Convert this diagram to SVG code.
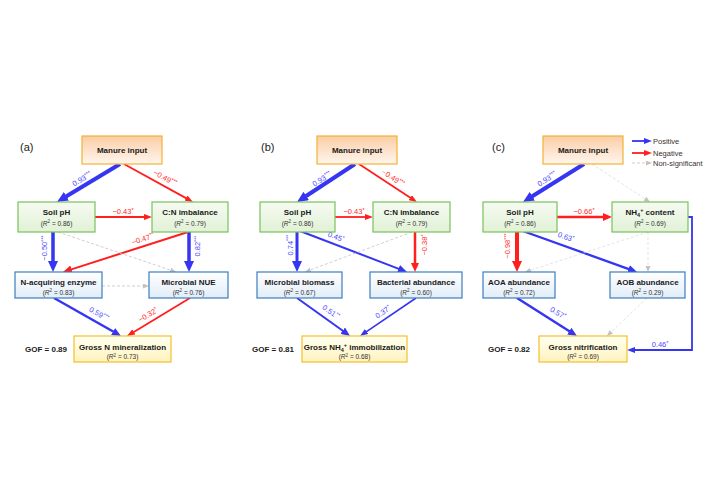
<svg xmlns="http://www.w3.org/2000/svg" width="716" height="484" viewBox="0 0 716 484">
<defs>
<linearGradient id="gOr" x1="0" y1="0" x2="0" y2="1"><stop offset="0" stop-color="#fbcda5"/><stop offset="1" stop-color="#fff6ee"/></linearGradient>
<linearGradient id="gGr" x1="0" y1="0" x2="0" y2="1"><stop offset="0" stop-color="#f6fbf2"/><stop offset="1" stop-color="#e1f1d6"/></linearGradient>
<linearGradient id="gBl" x1="0" y1="0" x2="0" y2="1"><stop offset="0" stop-color="#ffffff"/><stop offset="1" stop-color="#e2edf8"/></linearGradient>
<linearGradient id="gYe" x1="0" y1="0" x2="0" y2="1"><stop offset="0" stop-color="#fffff2"/><stop offset="1" stop-color="#fff3bd"/></linearGradient>
<marker id="bB" markerUnits="userSpaceOnUse" markerWidth="11" markerHeight="10" refX="1" refY="5" orient="auto"><path d="M0,0 L11,5 L0,10 z" fill="#3535f2"/></marker>
<marker id="bM" markerUnits="userSpaceOnUse" markerWidth="9" markerHeight="8" refX="1" refY="4" orient="auto"><path d="M0,0 L9,4 L0,8 z" fill="#3535f2"/></marker>
<marker id="bS" markerUnits="userSpaceOnUse" markerWidth="8" markerHeight="6" refX="1" refY="3" orient="auto"><path d="M0,0 L8,3 L0,6 z" fill="#3535f2"/></marker>
<marker id="rB" markerUnits="userSpaceOnUse" markerWidth="11" markerHeight="10" refX="1" refY="5" orient="auto"><path d="M0,0 L11,5 L0,10 z" fill="#ff1f1f"/></marker>
<marker id="rM" markerUnits="userSpaceOnUse" markerWidth="9" markerHeight="8" refX="1" refY="4" orient="auto"><path d="M0,0 L9,4 L0,8 z" fill="#ff1f1f"/></marker>
<marker id="rS" markerUnits="userSpaceOnUse" markerWidth="8" markerHeight="6" refX="1" refY="3" orient="auto"><path d="M0,0 L8,3 L0,6 z" fill="#ff1f1f"/></marker>
<marker id="gA" markerUnits="userSpaceOnUse" markerWidth="6" markerHeight="5" refX="1" refY="2.5" orient="auto"><path d="M0,0 L6,2.5 L0,5 z" fill="#c8c0c0"/></marker>
</defs>
<style>
text{font-family:"Liberation Sans",Arial,sans-serif;}
.t{font-size:8px;font-weight:bold;fill:#1a1a1a;text-anchor:middle;}
.r{font-size:6.5px;fill:#333;text-anchor:middle;}
.lb{font-size:7.5px;fill:#4a48ff;text-anchor:middle;}
.lr{font-size:7.5px;fill:#ff2a2a;text-anchor:middle;}
.s{font-size:5.5px;}
.pl{font-size:11px;fill:#222;}
.gof{font-size:8px;font-weight:bold;fill:#1a1a1a;}
.lg{font-size:7.5px;fill:#3a3030;}
.or{fill:url(#gOr);stroke:#f3b232;stroke-width:1.2;}
.gr{fill:url(#gGr);stroke:#79c15c;stroke-width:1.2;}
.bl{fill:url(#gBl);stroke:#3d7dbd;stroke-width:1.2;}
.ye{fill:url(#gYe);stroke:#f3c02e;stroke-width:1.2;}
.B{stroke:#3535f2;fill:none;}
.R{stroke:#ff1f1f;fill:none;}
.D{stroke:#c8c0c0;stroke-width:0.8;stroke-dasharray:3,2;fill:none;}
.DL{stroke:#dcd6d6;stroke-width:0.7;stroke-dasharray:3,2;fill:none;}
</style>
<rect width="716" height="484" fill="#ffffff"/>

<text class="pl" x="20" y="151">(a)</text>
<text class="pl" x="261" y="151">(b)</text>
<text class="pl" x="492" y="151">(c)</text>

<g id="connectors">
<!-- panel a -->
<line class="B" stroke-width="4" x1="120" y1="164" x2="65.6" y2="196.8" marker-end="url(#bB)"/>
<line class="R" stroke-width="1.8" x1="124" y1="164" x2="186.9" y2="198.6" marker-end="url(#rS)"/>
<line class="R" stroke-width="1.8" x1="95" y1="217" x2="145" y2="217" marker-end="url(#rS)"/>
<line class="B" stroke-width="3.5" x1="53" y1="232" x2="53" y2="262" marker-end="url(#bB)"/>
<line class="B" stroke-width="3.5" x1="189" y1="232" x2="189" y2="262" marker-end="url(#bB)"/>
<line class="R" stroke-width="2" x1="188" y1="232" x2="70.6" y2="269.6" marker-end="url(#rM)"/>
<line class="D" x1="58" y1="232" x2="171.3" y2="270.4" marker-end="url(#gA)"/>
<line class="D" x1="102" y1="286" x2="144" y2="286" marker-end="url(#gA)"/>
<line class="B" stroke-width="2.5" x1="54" y1="298" x2="114" y2="332" marker-end="url(#bM)"/>
<line class="R" stroke-width="1.8" x1="190" y1="298" x2="133" y2="332.4" marker-end="url(#rS)"/>
<!-- panel b -->
<line class="B" stroke-width="4" x1="355" y1="164" x2="305.4" y2="196.5" marker-end="url(#bB)"/>
<line class="R" stroke-width="1.8" x1="359" y1="164" x2="411.1" y2="198.2" marker-end="url(#rS)"/>
<line class="R" stroke-width="1.8" x1="335" y1="217" x2="366" y2="217" marker-end="url(#rS)"/>
<line class="B" stroke-width="3" x1="297" y1="232" x2="297" y2="262" marker-end="url(#bB)"/>
<line class="B" stroke-width="2" x1="300" y1="231" x2="399.5" y2="269.1" marker-end="url(#bM)"/>
<line class="R" stroke-width="2.5" x1="415" y1="232" x2="415" y2="264" marker-end="url(#rM)"/>
<line class="D" x1="412" y1="232" x2="309.7" y2="270.2" marker-end="url(#gA)"/>
<line class="B" stroke-width="2" x1="297" y1="298" x2="343.5" y2="331.3" marker-end="url(#bM)"/>
<line class="B" stroke-width="1.6" x1="416" y1="298" x2="365.8" y2="332.1" marker-end="url(#bS)"/>
<!-- panel c -->
<line class="B" stroke-width="4" x1="584" y1="164" x2="531.5" y2="196.7" marker-end="url(#bB)"/>
<line class="DL" x1="592" y1="164" x2="645.8" y2="199.3" marker-end="url(#gA)"/>
<line class="R" stroke-width="2.5" x1="557" y1="217" x2="604" y2="217" marker-end="url(#rM)"/>
<line class="R" stroke-width="4" x1="517" y1="232" x2="517" y2="262" marker-end="url(#rB)"/>
<line class="B" stroke-width="2.3" x1="520" y1="230" x2="629.5" y2="269.3" marker-end="url(#bM)"/>
<line class="DL" x1="648" y1="232" x2="529.8" y2="270.5" marker-end="url(#gA)"/>
<line class="DL" x1="648" y1="232" x2="648" y2="267" marker-end="url(#gA)"/>
<line class="B" stroke-width="2.5" x1="517" y1="298" x2="570.2" y2="331.7" marker-end="url(#bM)"/>
<line class="DL" x1="647" y1="298" x2="610.6" y2="332.6" marker-end="url(#gA)"/>
<path class="B" stroke-width="1.8" d="M688,217 H692 V350 H634" marker-end="url(#bS)"/>
<!-- legend -->
<line class="B" stroke-width="1.8" x1="632" y1="141" x2="645" y2="141" marker-end="url(#bS)"/>
<line class="R" stroke-width="1.8" x1="632" y1="153" x2="645" y2="153" marker-end="url(#rS)"/>
<line class="D" x1="632" y1="163" x2="647" y2="163" marker-end="url(#gA)"/>
</g>

<g id="labels">
<!-- a -->
<text class="lb" transform="translate(82,179) rotate(-31.1)" y="2.5">0.93<tspan class="s" dy="-2.5">***</tspan></text>
<text class="lr" transform="translate(165,178) rotate(28.8)" y="2.5">−0.49<tspan class="s" dy="-2.5">***</tspan></text>
<text class="lr" x="123" y="214">−0.43<tspan class="s" dy="-2.5">*</tspan></text>
<text class="lb" transform="translate(47,248) rotate(-90)">−0.50<tspan class="s" dy="-2.5">***</tspan></text>
<text class="lb" transform="translate(200,246) rotate(-90)">0.82<tspan class="s" dy="-2.5">***</tspan></text>
<text class="lr" transform="translate(143,239) rotate(-17.7)" y="2.5">−0.47<tspan class="s" dy="-2.5">**</tspan></text>
<text class="lb" transform="translate(99,314) rotate(29.6)" y="2.5">0.59<tspan class="s" dy="-2.5">***</tspan></text>
<text class="lr" transform="translate(148,315) rotate(-31.1)" y="2.5">−0.32<tspan class="s" dy="-2.5">*</tspan></text>
<!-- b -->
<text class="lb" transform="translate(322,179) rotate(-33.2)" y="2.5">0.93<tspan class="s" dy="-2.5">***</tspan></text>
<text class="lr" transform="translate(393,178) rotate(33.2)" y="2.5">−0.49<tspan class="s" dy="-2.5">***</tspan></text>
<text class="lr" x="354" y="214">−0.43<tspan class="s" dy="-2.5">*</tspan></text>
<text class="lb" transform="translate(292.5,245) rotate(-90)">0.74<tspan class="s" dy="-2.5">***</tspan></text>
<text class="lb" transform="translate(336,237) rotate(21)" y="2.5">0.45<tspan class="s" dy="-2.5">*</tspan></text>
<text class="lr" transform="translate(427,245) rotate(-90)">−0.38<tspan class="s" dy="-2.5">*</tspan></text>
<text class="lb" transform="translate(331,312) rotate(35.6)" y="2.5">0.51<tspan class="s" dy="-2.5">**</tspan></text>
<text class="lb" transform="translate(383,312) rotate(-34.2)" y="2.5">0.37<tspan class="s" dy="-2.5">*</tspan></text>
<!-- c -->
<text class="lb" transform="translate(547,179) rotate(-31.9)" y="2.5">0.93<tspan class="s" dy="-2.5">***</tspan></text>
<text class="lr" x="584" y="214">−0.66<tspan class="s" dy="-2.5">*</tspan></text>
<text class="lr" transform="translate(510,246) rotate(-90)">−0.98<tspan class="s" dy="-2.5">***</tspan></text>
<text class="lb" transform="translate(566,237) rotate(19.7)" y="2.5">0.63<tspan class="s" dy="-2.5">*</tspan></text>
<text class="lb" transform="translate(558,313) rotate(32.3)" y="2.5">0.57<tspan class="s" dy="-2.5">*</tspan></text>
<text class="lb" x="660" y="347">0.46<tspan class="s" dy="-2.5">*</tspan></text>
</g>

<g id="legend">
<text class="lg" x="653" y="143.5">Positive</text>
<text class="lg" x="653" y="155.5">Negative</text>
<text class="lg" x="653" y="166">Non-significant</text>
</g>

<!-- panel a nodes -->
<g id="a-manure"><rect class="or" x="82" y="136" width="80" height="28"/><text class="t" x="122" y="153">Manure input</text></g>
<g id="a-soilph"><rect class="gr" x="18" y="202" width="77" height="30"/><text class="t" x="56.5" y="215">Soil pH</text><text class="r" x="56.5" y="225.5">(<tspan font-style="italic">R</tspan><tspan font-size="4.5" dy="-2.5">2</tspan><tspan dy="2.5"> = 0.86)</tspan></text></g>
<g id="a-cn"><rect class="gr" x="152" y="202" width="76" height="30"/><text class="t" x="190" y="215">C:N imbalance</text><text class="r" x="190" y="225.5">(<tspan font-style="italic">R</tspan><tspan font-size="4.5" dy="-2.5">2</tspan><tspan dy="2.5"> = 0.79)</tspan></text></g>
<g id="a-nacq"><rect class="bl" x="15" y="272" width="87" height="26"/><text class="t" x="58.5" y="285">N-acquiring enzyme</text><text class="r" x="58.5" y="294.5">(<tspan font-style="italic">R</tspan><tspan font-size="4.5" dy="-2.5">2</tspan><tspan dy="2.5"> = 0.83)</tspan></text></g>
<g id="a-nue"><rect class="bl" x="149" y="272" width="79" height="26"/><text class="t" x="188.5" y="285">Microbial NUE</text><text class="r" x="188.5" y="294.5">(<tspan font-style="italic">R</tspan><tspan font-size="4.5" dy="-2.5">2</tspan><tspan dy="2.5"> = 0.76)</tspan></text></g>
<g id="a-gross"><rect class="ye" x="74" y="336" width="97" height="26"/><text class="t" x="122.5" y="349.5">Gross N mineralization</text><text class="r" x="122.5" y="359">(<tspan font-style="italic">R</tspan><tspan font-size="4.5" dy="-2.5">2</tspan><tspan dy="2.5"> = 0.73)</tspan></text></g>
<text class="gof" x="25" y="352">GOF = 0.89</text>

<!-- panel b nodes -->
<g id="b-manure"><rect class="or" x="317" y="136" width="80" height="28"/><text class="t" x="357" y="153">Manure input</text></g>
<g id="b-soilph"><rect class="gr" x="260" y="202" width="75" height="30"/><text class="t" x="297.5" y="215">Soil pH</text><text class="r" x="297.5" y="225.5">(<tspan font-style="italic">R</tspan><tspan font-size="4.5" dy="-2.5">2</tspan><tspan dy="2.5"> = 0.86)</tspan></text></g>
<g id="b-cn"><rect class="gr" x="373" y="202" width="77" height="30"/><text class="t" x="411.5" y="215">C:N imbalance</text><text class="r" x="411.5" y="225.5">(<tspan font-style="italic">R</tspan><tspan font-size="4.5" dy="-2.5">2</tspan><tspan dy="2.5"> = 0.79)</tspan></text></g>
<g id="b-biomass"><rect class="bl" x="257" y="272" width="85" height="26"/><text class="t" x="299.5" y="285">Microbial biomass</text><text class="r" x="299.5" y="294.5">(<tspan font-style="italic">R</tspan><tspan font-size="4.5" dy="-2.5">2</tspan><tspan dy="2.5"> = 0.67)</tspan></text></g>
<g id="b-bact"><rect class="bl" x="370" y="272" width="92" height="26"/><text class="t" x="416" y="285">Bacterial abundance</text><text class="r" x="416" y="294.5">(<tspan font-style="italic">R</tspan><tspan font-size="4.5" dy="-2.5">2</tspan><tspan dy="2.5"> = 0.60)</tspan></text></g>
<g id="b-gross"><rect class="ye" x="302" y="336" width="105" height="26"/><text class="t" x="354.5" y="349.5">Gross NH<tspan font-size="5.5" dy="2">4</tspan><tspan font-size="5.5" dy="-5">+</tspan><tspan dy="3"> immobilization</tspan></text><text class="r" x="354.5" y="359">(<tspan font-style="italic">R</tspan><tspan font-size="4.5" dy="-2.5">2</tspan><tspan dy="2.5"> = 0.68)</tspan></text></g>
<text class="gof" x="252" y="352">GOF = 0.81</text>

<!-- panel c nodes -->
<g id="c-manure"><rect class="or" x="543" y="136" width="80" height="28"/><text class="t" x="583" y="153">Manure input</text></g>
<g id="c-soilph"><rect class="gr" x="483" y="202" width="74" height="30"/><text class="t" x="520" y="215">Soil pH</text><text class="r" x="520" y="225.5">(<tspan font-style="italic">R</tspan><tspan font-size="4.5" dy="-2.5">2</tspan><tspan dy="2.5"> = 0.86)</tspan></text></g>
<g id="c-nh4"><rect class="gr" x="612" y="202" width="76" height="30"/><text class="t" x="650" y="215">NH<tspan font-size="5.5" dy="2">4</tspan><tspan font-size="5.5" dy="-5">+</tspan><tspan dy="3"> content</tspan></text><text class="r" x="650" y="225.5">(<tspan font-style="italic">R</tspan><tspan font-size="4.5" dy="-2.5">2</tspan><tspan dy="2.5"> = 0.69)</tspan></text></g>
<g id="c-aoa"><rect class="bl" x="483" y="272" width="72" height="26"/><text class="t" x="519" y="285">AOA abundance</text><text class="r" x="519" y="294.5">(<tspan font-style="italic">R</tspan><tspan font-size="4.5" dy="-2.5">2</tspan><tspan dy="2.5"> = 0.72)</tspan></text></g>
<g id="c-aob"><rect class="bl" x="610" y="272" width="75" height="26"/><text class="t" x="647.5" y="285">AOB abundance</text><text class="r" x="647.5" y="294.5">(<tspan font-style="italic">R</tspan><tspan font-size="4.5" dy="-2.5">2</tspan><tspan dy="2.5"> = 0.29)</tspan></text></g>
<g id="c-gross"><rect class="ye" x="539" y="336" width="88" height="26"/><text class="t" x="583" y="349.5">Gross nitrification</text><text class="r" x="583" y="359">(<tspan font-style="italic">R</tspan><tspan font-size="4.5" dy="-2.5">2</tspan><tspan dy="2.5"> = 0.69)</tspan></text></g>
<text class="gof" x="488" y="352">GOF = 0.82</text>
</svg>
